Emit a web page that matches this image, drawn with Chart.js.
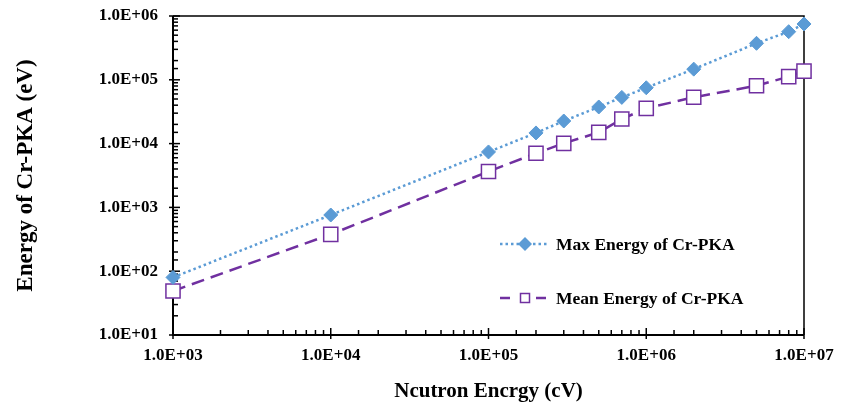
<!DOCTYPE html>
<html>
<head>
<meta charset="utf-8">
<script src="https://cdn.jsdelivr.net/npm/chart.js@4"></script>
<style>
  body { margin: 0; background: #fff; }
  #wrap { width: 841px; height: 408px; }
</style>
</head>
<body>
<div id="wrap"><canvas id="myChart"></canvas></div>
<script>
// neutron energy (eV)
const energies = [1e3, 1e4, 1e5, 2e5, 3e5, 5e5, 7e5, 1e6, 2e6, 5e6, 8e6, 1e7];
const maxEnergy = [80, 760, 7400, 14700, 22600, 37500, 53000, 75000, 147000, 373000, 568000, 750000];
const meanEnergy = [49, 378, 3650, 7050, 10100, 15000, 24300, 35700, 53200, 80700, 112000, 137000];

const seriesNames = ["Max Energy of Cr-PKA", "Mean Energy of Cr-PKA"];
const xTitle = "Ncutron Encrgy (cV)";
const yTitle = "Energy of Cr-PKA (eV)";

const FONT = "'Liberation Serif', 'Times New Roman', serif";

function toPoints(ys) {
  return energies.map((x, i) => ({ x: x, y: ys[i] }));
}

function expLabel(v) {
  const e = Math.round(Math.log10(v));
  if (Math.abs(Math.log10(v) - e) > 1e-9) return "";
  return "1.0E+" + String(e).padStart(2, "0");
}

// frame, inward ticks and the legend inside the plot
const framePlugin = {
  id: "frame",
  beforeDatasetsDraw(chart) {
    const ctx = chart.ctx;
    const a = chart.chartArea;
    ctx.save();
    ctx.strokeStyle = "#000";
    ctx.lineWidth = 1.5;
    ctx.beginPath();
    ctx.moveTo(a.left, a.top);
    ctx.lineTo(a.right, a.top);
    ctx.lineTo(a.right, a.bottom);
    ctx.stroke();
    ctx.lineWidth = 2;
    ctx.beginPath();
    ctx.moveTo(a.left, a.top);
    ctx.lineTo(a.left, a.bottom);
    ctx.lineTo(a.right, a.bottom);
    ctx.stroke();

    ctx.lineWidth = 1.5;
    const xs = chart.scales.x;
    xs.ticks.forEach(t => {
      const p = xs.getPixelForValue(t.value);
      const major = expLabel(t.value) !== "";
      ctx.beginPath();
      ctx.moveTo(p, a.bottom + (major ? 4 : 0));
      ctx.lineTo(p, a.bottom - (major ? 7 : 5));
      ctx.stroke();
    });
    const ys = chart.scales.y;
    ys.ticks.forEach(t => {
      const p = ys.getPixelForValue(t.value);
      const major = expLabel(t.value) !== "";
      ctx.beginPath();
      ctx.moveTo(a.left - (major ? 4 : 0), p);
      ctx.lineTo(a.left + (major ? 7 : 5), p);
      ctx.stroke();
    });
    ctx.restore();
  },
  afterDraw(chart) {
    const ctx = chart.ctx;
    ctx.save();
    const rows = [244, 298];
    chart.data.datasets.forEach((ds, i) => {
      const y = rows[i];
      ctx.save();
      ctx.strokeStyle = ds.borderColor;
      ctx.lineWidth = ds.borderWidth;
      ctx.setLineDash(i === 0 ? ds.borderDash : [10, 8]);
      ctx.beginPath();
      ctx.moveTo(500, y);
      ctx.lineTo(549, y);
      ctx.stroke();
      ctx.restore();
      ctx.fillStyle = ds.pointBackgroundColor;
      ctx.strokeStyle = ds.pointBorderColor;
      ctx.lineWidth = ds.pointBorderWidth;
      ctx.beginPath();
      if (i === 0) {
        ctx.moveTo(525, y - 7); ctx.lineTo(532, y); ctx.lineTo(525, y + 7); ctx.lineTo(518, y);
        ctx.closePath(); ctx.fill();
      } else {
        ctx.fillRect(518, y - 7, 14, 14);
        ctx.rect(520.5, y - 4.5, 9, 9);
        ctx.stroke();
      }
      ctx.fillStyle = "#000";
      ctx.font = "bold 17.5px " + FONT;
      ctx.textBaseline = "middle";
      ctx.fillText(seriesNames[i], 556, y + 1);
    });
    ctx.restore();
  }
};

new Chart(document.getElementById("myChart"), {
  type: "line",
  data: {
    datasets: [
      {
        label: seriesNames[0],
        data: toPoints(maxEnergy),
        borderColor: "#5B9BD5",
        backgroundColor: "#5B9BD5",
        borderWidth: 2.5,
        borderDash: [2.5, 3],
        pointStyle: "rectRot",
        pointRadius: 7,
        pointBackgroundColor: "#5B9BD5",
        pointBorderColor: "#5B9BD5",
        pointBorderWidth: 1,
        tension: 0,
        clip: false
      },
      {
        label: seriesNames[1],
        data: toPoints(meanEnergy),
        borderColor: "#7030A0",
        backgroundColor: "#fff",
        borderWidth: 2.5,
        borderDash: [13, 7],
        pointStyle: "rect",
        pointRadius: 10,
        pointBackgroundColor: "#fff",
        pointBorderColor: "#7030A0",
        pointBorderWidth: 1.5,
        tension: 0,
        clip: false
      }
    ]
  },
  options: {
    responsive: true,
    maintainAspectRatio: false,
    animation: false,
    layout: { padding: { top: 16, right: 37, left: 0, bottom: 0 } },
    plugins: {
      legend: { display: false },
      tooltip: { enabled: false }
    },
    scales: {
      x: {
        type: "logarithmic",
        min: 1e3,
        max: 1e7,
        grid: { display: false, drawTicks: false },
        border: { display: false },
        afterFit(scale) {
          scale.height = 73;
          scale.paddingLeft = 0;
          scale.paddingRight = 0;
        },
        ticks: {
          autoSkip: false,
          maxRotation: 0,
          padding: 10,
          color: "#000",
          font: { family: FONT, size: 17, weight: "bold" },
          callback: (v) => expLabel(v)
        },
        title: {
          display: true,
          text: xTitle,
          color: "#000",
          font: { family: FONT, size: 21, weight: "bold" },
          padding: { top: 0, bottom: 4 }
        }
      },
      y: {
        type: "logarithmic",
        min: 10,
        max: 1e6,
        grid: { display: false, drawTicks: false },
        border: { display: false },
        afterFit(scale) {
          scale.width = 173;
          scale.paddingTop = 0;
          scale.paddingBottom = 0;
        },
        ticks: {
          autoSkip: false,
          padding: 15,
          color: "#000",
          font: { family: FONT, size: 17, weight: "bold" },
          callback: (v) => expLabel(v)
        },
        title: {
          display: true,
          text: yTitle,
          color: "#000",
          font: { family: FONT, size: 23, weight: "bold" },
          padding: { top: 12, bottom: 0 }
        }
      }
    }
  },
  plugins: [framePlugin]
});
</script>
</body>
</html>
